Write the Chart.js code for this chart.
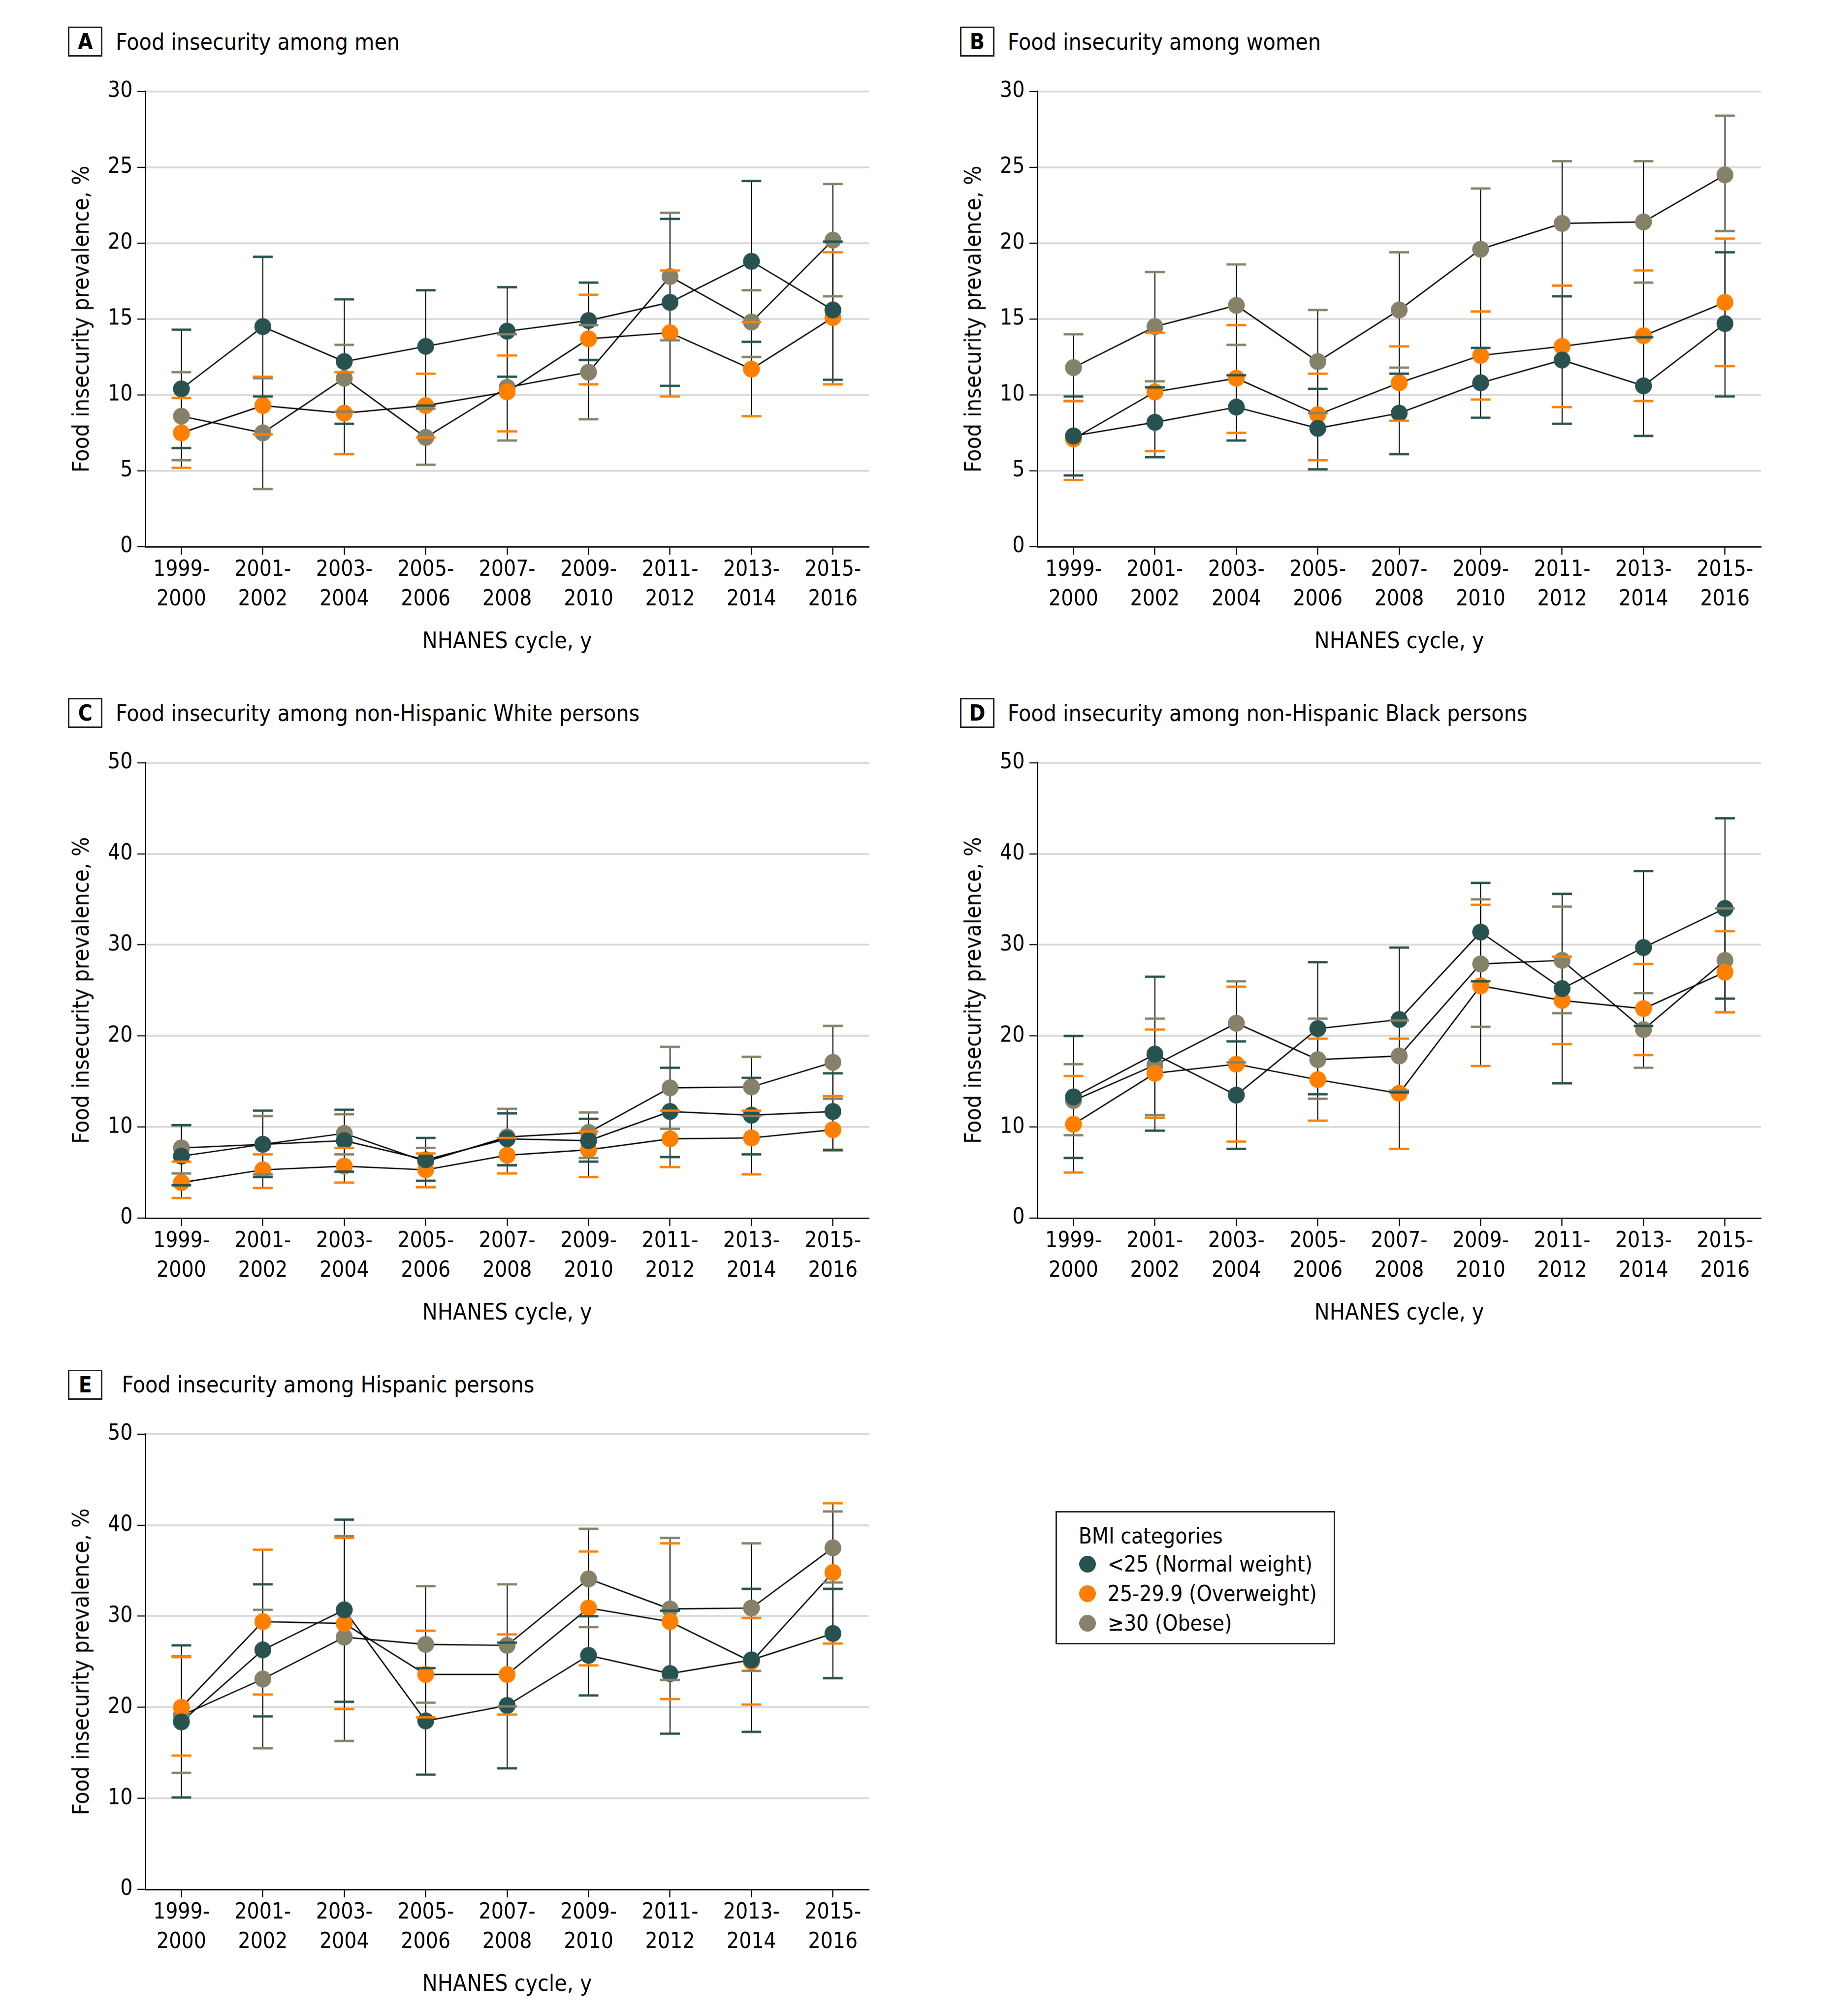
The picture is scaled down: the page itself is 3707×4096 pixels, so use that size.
<!DOCTYPE html>
<html>
<head>
<meta charset="utf-8">
<title>Food insecurity by BMI category, NHANES 1999-2016</title>
<script src="https://cdn.jsdelivr.net/npm/chart.js@4.4.1/dist/chart.umd.min.js"></script>
<style>
  html, body { margin: 0; padding: 0; background: #fff; }
  body { width: 3707px; height: 4096px; position: relative; overflow: hidden;
         font-family: 'DejaVu Sans Condensed', 'Liberation Sans Narrow', 'DejaVu Sans', sans-serif; color: #000; }
  .panel { position: absolute; }
  .ptitle { position: absolute; display: flex; align-items: center; white-space: nowrap; }
  .ptitle .box { box-sizing: border-box; border: 3px solid #222; display: flex; align-items: center; justify-content: center; font-weight: bold; }
  .legend { position: absolute; box-sizing: border-box; border: 3px solid #222; }
  .legend .t { position: absolute; white-space: nowrap; line-height: 1; transform: translateY(-50%); }
  .dot { position: absolute; border-radius: 50%; }
</style>
</head>
<body>
<script>
var S = 0.952;
var FONT = "'DejaVu Sans Condensed', 'Liberation Sans Narrow', 'DejaVu Sans', sans-serif";
var FS = 44;      // tick labels, legend
var FT = 46;      // panel and axis titles

var cycles = [['1999-', '2000'], ['2001-', '2002'], ['2003-', '2004'], ['2005-', '2006'], ['2007-', '2008'],
              ['2009-', '2010'], ['2011-', '2012'], ['2013-', '2014'], ['2015-', '2016']];
var bmiLabels = ['<25 (Normal weight)', '25-29.9 (Overweight)', '\u226530 (Obese)'];
var bmiColors = ['#27524f', '#ff8000', '#858269'];

// A - men
var menNormal   = [10.4, 14.5, 12.2, 13.2, 14.2, 14.9, 16.1, 18.8, 15.6];
var menNormalLo = [6.5, 9.9, 8.1, 9.3, 11.2, 12.3, 10.6, 13.5, 11.0];
var menNormalHi = [14.3, 19.1, 16.3, 16.9, 17.1, 17.4, 21.6, 24.1, 20.1];
var menOver     = [7.5, 9.3, 8.8, 9.3, 10.2, 13.7, 14.1, 11.7, 15.1];
var menOverLo   = [5.2, 7.4, 6.1, 7.2, 7.6, 10.7, 9.9, 8.6, 10.7];
var menOverHi   = [9.8, 11.2, 11.5, 11.4, 12.6, 16.6, 18.2, 14.8, 19.4];
var menObese    = [8.6, 7.5, 11.1, 7.2, 10.5, 11.5, 17.8, 14.8, 20.2];
var menObeseLo  = [5.7, 3.8, 8.9, 5.4, 7.0, 8.4, 13.6, 12.5, 16.5];
var menObeseHi  = [11.5, 11.1, 13.3, 9.1, 14.0, 14.6, 22.0, 16.9, 23.9];

// B - women
var womNormal   = [7.3, 8.2, 9.2, 7.8, 8.8, 10.8, 12.3, 10.6, 14.7];
var womNormalLo = [4.7, 5.9, 7.0, 5.1, 6.1, 8.5, 8.1, 7.3, 9.9];
var womNormalHi = [9.9, 10.5, 11.3, 10.4, 11.4, 13.1, 16.5, 13.8, 19.4];
var womOver     = [7.1, 10.2, 11.1, 8.7, 10.8, 12.6, 13.2, 13.9, 16.1];
var womOverLo   = [4.4, 6.3, 7.5, 5.7, 8.3, 9.7, 9.2, 9.6, 11.9];
var womOverHi   = [9.6, 14.1, 14.6, 11.4, 13.2, 15.5, 17.2, 18.2, 20.3];
var womObese    = [11.8, 14.5, 15.9, 12.2, 15.6, 19.6, 21.3, 21.4, 24.5];
var womObeseLo  = [9.6, 10.9, 13.3, 8.8, 11.8, 15.5, 17.2, 17.4, 20.8];
var womObeseHi  = [14.0, 18.1, 18.6, 15.6, 19.4, 23.6, 25.4, 25.4, 28.4];

// C - non-Hispanic White
var whiNormal   = [6.8, 8.1, 8.5, 6.4, 8.7, 8.5, 11.7, 11.3, 11.7];
var whiNormalLo = [3.6, 4.5, 5.1, 4.1, 5.8, 6.2, 6.7, 7.0, 7.5];
var whiNormalHi = [10.2, 11.8, 11.9, 8.8, 11.5, 10.9, 16.5, 15.4, 15.9];
var whiOver     = [3.9, 5.3, 5.7, 5.3, 6.9, 7.5, 8.7, 8.8, 9.7];
var whiOverLo   = [2.2, 3.3, 3.9, 3.4, 4.9, 4.5, 5.6, 4.8, 7.4];
var whiOverHi   = [6.2, 7.0, 7.7, 7.1, 8.8, 9.5, 11.8, 11.8, 13.4];
var whiObese    = [7.7, 8.1, 9.3, 6.2, 8.9, 9.4, 14.3, 14.4, 17.1];
var whiObeseLo  = [4.9, 4.8, 7.0, 3.4, 5.8, 6.6, 9.8, 11.2, 13.1];
var whiObeseHi  = [10.2, 11.2, 11.4, 7.7, 12.0, 11.6, 18.8, 17.7, 21.1];

// D - non-Hispanic Black
var blaNormal   = [13.3, 18.0, 13.5, 20.8, 21.8, 31.4, 25.2, 29.7, 34.0];
var blaNormalLo = [6.6, 9.6, 7.6, 13.6, 13.8, 26.0, 14.8, 21.1, 24.1];
var blaNormalHi = [20.0, 26.5, 19.4, 28.1, 29.7, 36.8, 35.6, 38.1, 43.9];
var blaOver     = [10.3, 15.9, 16.9, 15.2, 13.7, 25.5, 23.9, 23.0, 27.0];
var blaOverLo   = [5.0, 11.0, 8.4, 10.7, 7.6, 16.7, 19.1, 17.9, 22.6];
var blaOverHi   = [15.6, 20.7, 25.4, 19.7, 19.7, 34.4, 28.7, 27.9, 31.5];
var blaObese    = [12.9, 16.8, 21.4, 17.4, 17.8, 27.9, 28.3, 20.7, 28.3];
var blaObeseLo  = [9.1, 11.3, 17.1, 13.1, 14.0, 21.0, 22.5, 16.5, 22.6];
var blaObeseHi  = [16.9, 21.9, 26.0, 21.9, 21.7, 35.0, 34.2, 24.7, 34.0];

// E - Hispanic
var hisNormal   = [18.4, 26.3, 30.7, 18.5, 20.2, 25.7, 23.7, 25.2, 28.1];
var hisNormalLo = [10.1, 19.0, 20.6, 12.6, 13.3, 21.3, 17.1, 17.3, 23.2];
var hisNormalHi = [26.8, 33.5, 40.6, 24.3, 27.1, 30.0, 30.6, 33.0, 33.0];
var hisOver     = [20.0, 29.4, 29.2, 23.6, 23.6, 30.9, 29.4, 25.0, 34.8];
var hisOverLo   = [14.7, 21.4, 19.8, 18.9, 19.2, 24.6, 20.9, 20.3, 27.0];
var hisOverHi   = [25.5, 37.3, 38.6, 28.4, 28.0, 37.1, 38.0, 29.8, 42.4];
var hisObese    = [19.1, 23.1, 27.7, 26.9, 26.8, 34.1, 30.8, 30.9, 37.5];
var hisObeseLo  = [12.8, 15.5, 16.3, 20.5, 20.1, 28.8, 23.0, 24.0, 33.7];
var hisObeseHi  = [25.6, 30.7, 38.8, 33.3, 33.5, 39.6, 38.6, 38.0, 41.5];

var panels = [
    { letter: 'A', title: 'Food insecurity among men', dx: 0, dy: 0, gap: 28, yMax: 30, yStep: 5,
      series: [[menNormal, menNormalLo, menNormalHi], [menOver, menOverLo, menOverHi], [menObese, menObeseLo, menObeseHi]] },
    { letter: 'B', title: 'Food insecurity among women', dx: 1903, dy: 0, gap: 28, yMax: 30, yStep: 5,
      series: [[womNormal, womNormalLo, womNormalHi], [womOver, womOverLo, womOverHi], [womObese, womObeseLo, womObeseHi]] },
    { letter: 'C', title: 'Food insecurity among non-Hispanic White persons', dx: 0, dy: 1433, gap: 28, yMax: 50, yStep: 10,
      series: [[whiNormal, whiNormalLo, whiNormalHi], [whiOver, whiOverLo, whiOverHi], [whiObese, whiObeseLo, whiObeseHi]] },
    { letter: 'D', title: 'Food insecurity among non-Hispanic Black persons', dx: 1903, dy: 1433, gap: 28, yMax: 50, yStep: 10,
      series: [[blaNormal, blaNormalLo, blaNormalHi], [blaOver, blaOverLo, blaOverHi], [blaObese, blaObeseLo, blaObeseHi]] },
    { letter: 'E', title: 'Food insecurity among Hispanic persons', dx: 0, dy: 2866, gap: 41, yMax: 50, yStep: 10,
      series: [[hisNormal, hisNormalLo, hisNormalHi], [hisOver, hisOverLo, hisOverHi], [hisObese, hisObeseLo, hisObeseHi]] }
];

// panel A geometry in reference pixels, the others are shifted by dx/dy
var AXIS_X = 310, PLOT_R = 1854, PLOT_T = 195, PLOT_B = 1166;
var YW = 163, XH = 233, PT = 50, PR = 20;
var X_PAD = 0.443;
var CAP_W = 42 * S, CAP_H = 5 * S, WHISK = 2.2 * S;

function px(v) { return (v * S) + 'px'; }

Chart.defaults.font.family = FONT;
Chart.defaults.font.size = FS;
Chart.defaults.color = '#000';

function errorBarPlugin(series) {
    function draw(chart, caps) {
        var ctx = chart.ctx, xs = chart.scales.x, ys = chart.scales.y;
        ctx.save();
        for (var s = series.length - 1; s >= 0; s--) {
            var lo = series[s][1], hi = series[s][2];
            for (var i = 0; i < lo.length; i++) {
                var x = xs.getPixelForValue(i);
                var y1 = ys.getPixelForValue(lo[i]), y2 = ys.getPixelForValue(hi[i]);
                if (caps) {
                    ctx.fillStyle = bmiColors[s];
                    ctx.fillRect(x - CAP_W / 2, y1 - CAP_H / 2, CAP_W, CAP_H);
                    ctx.fillRect(x - CAP_W / 2, y2 - CAP_H / 2, CAP_W, CAP_H);
                } else {
                    ctx.strokeStyle = '#000';
                    ctx.lineWidth = WHISK;
                    ctx.beginPath();
                    ctx.moveTo(x, y1);
                    ctx.lineTo(x, y2);
                    ctx.stroke();
                }
            }
        }
        ctx.restore();
    }
    return {
        id: 'errorBars',
        beforeDatasetsDraw: function (c) { draw(c, false); },
        afterDatasetsDraw: function (c) { draw(c, true); }
    };
}

function toPoints(arr) {
    return arr.map(function (v, i) { return { x: i, y: v }; });
}

panels.forEach(function (p) {
    // boxed letter + title
    var t = document.createElement('div');
    t.className = 'ptitle';
    t.style.left = px(145 + p.dx);
    t.style.top = px(57 + p.dy);
    t.style.height = px(64);
    t.innerHTML = '<div class="box" style="font-size:' + FS + 'px;width:' + px(74) + ';height:' + px(64) + '">' + p.letter + '</div>' +
                  '<div style="font-size:' + FT + 'px;margin-left:' + px(p.gap) + '">' + p.title + '</div>';
    document.body.appendChild(t);

    var left = AXIS_X - YW, top = PLOT_T - PT;
    var box = document.createElement('div');
    box.className = 'panel';
    box.style.left = px(left + p.dx);
    box.style.top = px(top + p.dy);
    box.style.width = px(PLOT_R + PR - left);
    box.style.height = px(PLOT_B + XH - top);
    var cv = document.createElement('canvas');
    box.appendChild(cv);
    document.body.appendChild(box);

    var datasets = [];
    p.series.forEach(function (s) {
        datasets.push({ data: toPoints(s[0]), showLine: true, borderColor: '#000', borderWidth: 2.8 * S,
                        pointRadius: 0, order: 10 });
    });
    p.series.forEach(function (s, k) {
        datasets.push({ label: bmiLabels[k], data: toPoints(s[0]), showLine: false, pointRadius: 18 * S,
                        pointBackgroundColor: bmiColors[k], pointBorderWidth: 0, order: k + 1 });
    });

    new Chart(cv, {
        type: 'scatter',
        data: { datasets: datasets },
        plugins: [errorBarPlugin(p.series)],
        options: {
            responsive: true,
            maintainAspectRatio: false,
            animation: false,
            events: [],
            layout: { padding: { top: PT * S, right: PR * S, left: 0, bottom: 0 } },
            plugins: { legend: { display: false }, tooltip: { enabled: false } },
            scales: {
                x: {
                    type: 'linear',
                    min: -X_PAD,
                    max: cycles.length - 1 + X_PAD,
                    afterBuildTicks: function (scale) {
                        scale.ticks = cycles.map(function (c, i) { return { value: i }; });
                    },
                    afterFit: function (scale) { scale.height = XH * S; },
                    ticks: {
                        autoSkip: false, maxRotation: 0, minRotation: 0, padding: 2,
                        font: { size: FS, lineHeight: 1.35 }, color: '#000',
                        callback: function (v) { return cycles[v]; }
                    },
                    grid: { drawOnChartArea: false, drawTicks: true, tickLength: 17 * S, tickColor: '#000', tickWidth: 2.4 * S },
                    border: { display: true, color: '#000', width: 3 * S },
                    title: { display: true, text: 'NHANES cycle, y', font: { size: FT, lineHeight: 1.2 }, padding: 0, color: '#000' }
                },
                y: {
                    min: 0,
                    max: p.yMax,
                    afterFit: function (scale) { scale.width = YW * S; },
                    ticks: { stepSize: p.yStep, padding: 10 * S, font: { size: FS }, color: '#000' },
                    grid: {
                        color: function (c) { return c.tick && c.tick.value === 0 ? 'rgba(0,0,0,0)' : '#d9d9d9'; },
                        lineWidth: 4 * S, drawTicks: true, tickLength: 17 * S, tickColor: '#000', tickWidth: 2.4 * S
                    },
                    border: { display: true, color: '#000', width: 3 * S },
                    title: { display: true, text: 'Food insecurity prevalence, %', font: { size: FT, lineHeight: 1.2 }, padding: 0, color: '#000' }
                }
            }
        }
    });
});

// legend box
var lg = document.createElement('div');
lg.className = 'legend';
lg.style.left = px(2252);
lg.style.top = px(3225);
lg.style.width = px(597);
lg.style.height = px(284);
lg.style.fontSize = FS + 'px';
var html = '<div class="t" style="left:' + px(46) + ';top:' + px(50) + '">BMI categories</div>';
bmiLabels.forEach(function (name, k) {
    var cy = 110 + k * 63;
    html += '<div class="dot" style="left:' + px(65 - 18) + ';top:' + px(cy - 18) + ';width:' + px(36) + ';height:' + px(36) +
            ';background:' + bmiColors[k] + '"></div>';
    html += '<div class="t" style="left:' + px(108) + ';top:' + px(cy) + '">' + name.replace('<', '&lt;') + '</div>';
});
lg.innerHTML = html;
document.body.appendChild(lg);
</script>
</body>
</html>
